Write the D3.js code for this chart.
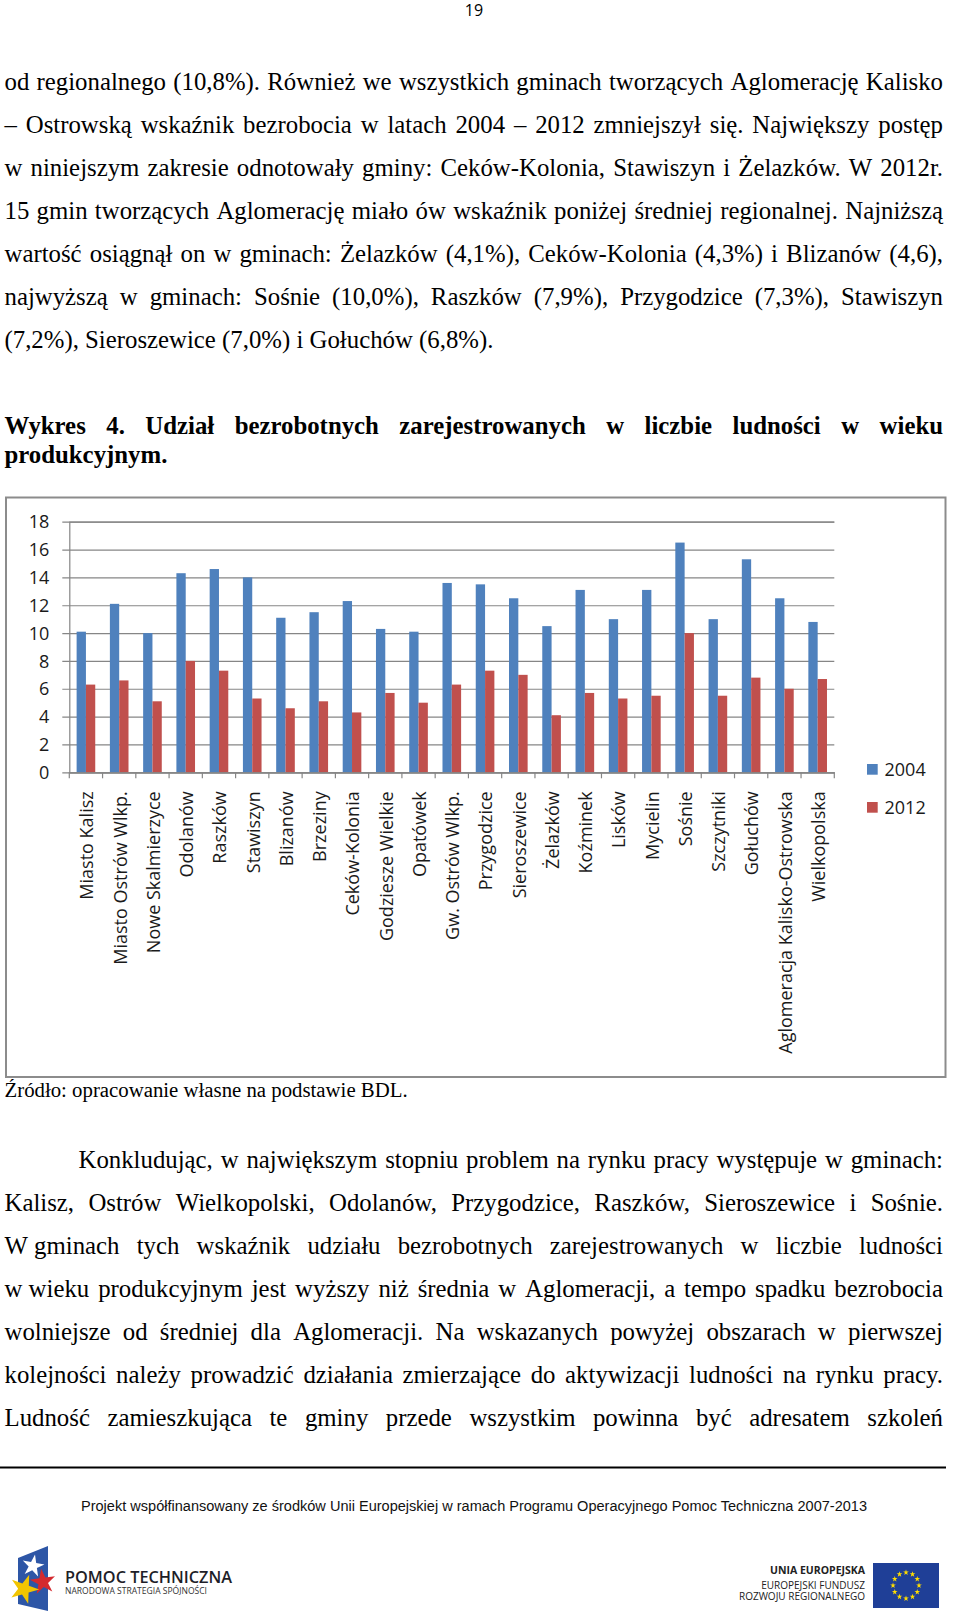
<!DOCTYPE html>
<html><head><meta charset="utf-8">
<script src="https://cdn.jsdelivr.net/npm/d3@7"></script>
<style>html,body{margin:0;padding:0;background:#fff;}svg{display:block;}</style>
</head><body>
<script>
// ---------- DATA ----------
const categories = ["Miasto Kalisz","Miasto Ostrów Wlkp.","Nowe Skalmierzyce","Odolanów","Raszków","Stawiszyn","Blizanów","Brzeziny","Ceków-Kolonia","Godziesze Wielkie","Opatówek","Gw. Ostrów Wlkp.","Przygodzice","Sieroszewice","Żelazków","Koźminek","Lisków","Mycielin","Sośnie","Szczytniki","Gołuchów","Aglomeracja Kalisko-Ostrowska","Wielkopolska"];
const series = ["2004","2012"];
const values2004 = [10.1,12.1,10.0,14.3,14.6,14.0,11.1,11.5,12.3,10.3,10.1,13.6,13.5,12.5,10.5,13.1,11.0,13.1,16.5,11.0,15.3,12.5,10.8];
const values2012 = [6.3,6.6,5.1,8.0,7.3,5.3,4.6,5.1,4.3,5.7,5.0,6.3,7.3,7.0,4.1,5.7,5.3,5.5,10.0,5.5,6.8,6.0,6.7];
const yTicks = [0,2,4,6,8,10,12,14,16,18];

const pageNumber = "19";
const para1 = [
 "od regionalnego (10,8%). Również we wszystkich gminach tworzących Aglomerację Kalisko",
 "– Ostrowską wskaźnik bezrobocia w latach 2004 – 2012 zmniejszył się. Największy postęp",
 "w niniejszym zakresie odnotowały gminy: Ceków-Kolonia, Stawiszyn i Żelazków. W 2012r.",
 "15 gmin tworzących Aglomerację miało ów wskaźnik poniżej średniej regionalnej. Najniższą",
 "wartość osiągnął on w gminach: Żelazków (4,1%), Ceków-Kolonia (4,3%) i Blizanów (4,6),",
 "najwyższą w gminach: Sośnie (10,0%), Raszków (7,9%), Przygodzice (7,3%), Stawiszyn",
 "(7,2%), Sieroszewice (7,0%) i Gołuchów (6,8%)."
];
const heading = ["Wykres 4. Udział bezrobotnych zarejestrowanych w liczbie ludności w wieku","produkcyjnym."];
const sourceText = "Źródło: opracowanie własne na podstawie BDL.";
const para2 = [
 "Konkludując, w największym stopniu problem na rynku pracy występuje w gminach:",
 "Kalisz, Ostrów Wielkopolski, Odolanów, Przygodzice, Raszków, Sieroszewice i Sośnie.",
 "W\u00A0gminach tych wskaźnik udziału bezrobotnych zarejestrowanych w liczbie ludności",
 "w\u00A0wieku produkcyjnym jest wyższy niż średnia w Aglomeracji, a tempo spadku bezrobocia",
 "wolniejsze od średniej dla Aglomeracji. Na wskazanych powyżej obszarach w pierwszej",
 "kolejności należy prowadzić działania zmierzające do aktywizacji ludności na rynku pracy.",
 "Ludność zamieszkująca te gminy przede wszystkim powinna być adresatem szkoleń"
];
const footerText = "Projekt współfinansowany ze środków Unii Europejskiej w ramach Programu Operacyjnego Pomoc Techniczna 2007-2013";
const logoLeft = ["POMOC TECHNICZNA","NARODOWA STRATEGIA SPÓJNOŚCI"];
const logoRight = ["UNIA EUROPEJSKA","EUROPEJSKI FUNDUSZ","ROZWOJU REGIONALNEGO"];

// ---------- PAGE ----------
const W = 960, H = 1619;
const svg = d3.select("body").append("svg").attr("width", W).attr("height", H);
svg.append("rect").attr("width", W).attr("height", H).attr("fill", "#fff");

const serif = "'Liberation Serif','Times New Roman',serif";
const LEFT = 4.5, RIGHT = 943;

function line(txt, x0, x1, y, opts) {
  const t = svg.append("text").attr("y", y)
    .style("font-family", serif).style("font-size", opts.size + "px")
    .style("font-weight", opts.bold ? "bold" : "normal").attr("fill", "#000");
  if (!opts.justify) { t.attr("x", x0).text(txt); return; }
  const words = txt.split(" ");
  const spans = words.map(w => t.append("tspan").attr("x", x0).text(w));
  const widths = spans.map(s => s.node().getComputedTextLength());
  const total = d3.sum(widths);
  let gap = (x1 - x0 - total) / (words.length - 1);
  let scale = 1;
  const minGap = opts.size * 0.18;
  if (gap < minGap) {
    scale = (x1 - x0 - minGap * (words.length - 1)) / total;
    gap = minGap;
  }
  let x = x0;
  spans.forEach((s, i) => {
    s.attr("x", x);
    if (scale < 1) s.attr("textLength", widths[i] * scale).attr("lengthAdjust", "spacingAndGlyphs");
    x += widths[i] * scale + gap;
  });
}

// page number
svg.append("text").attr("x", 474).attr("y", 16).attr("text-anchor", "middle")
  .style("font-family", "'Open Sans',sans-serif").style("font-size", "16px").text(pageNumber);

const BODY = 24.8, LH = 43;
para1.forEach((l, i) => line(l, LEFT, RIGHT, 90 + i * LH, {size: BODY, justify: i < para1.length - 1}));
heading.forEach((l, i) => line(l, LEFT, RIGHT, 434 + i * 29, {size: BODY, bold: true, justify: i === 0}));

// ---------- CHART ----------
svg.append("rect").attr("x", 6).attr("y", 497.5).attr("width", 939.5).attr("height", 579.5)
  .attr("fill", "#fff").attr("stroke", "#8c8c8c").attr("stroke-width", 2);

const plot = {l: 69.3, r: 834.3, t: 521.7, b: 772.3};
const x = d3.scaleBand().domain(categories).range([plot.l, plot.r]).paddingInner(0).paddingOuter(0);
const xs = d3.scaleBand().domain(series).range([x.bandwidth() * 0.22, x.bandwidth() * 0.78]);
const y = d3.scaleLinear().domain([0, 18]).range([plot.b, plot.t]);
const colors = d3.scaleOrdinal().domain(series).range(["#4F81BD", "#C0504D"]);
const chartFont = "'Open Sans',sans-serif";

// gridlines + y axis
const yAxis = svg.append("g").attr("transform", `translate(${plot.l},0)`)
  .call(d3.axisLeft(y).tickValues(yTicks).tickSize(-(plot.r - plot.l)).tickPadding(0).tickFormat(d3.format("d")));
yAxis.select(".domain").attr("stroke", "#868686").attr("stroke-width", 1.2);
yAxis.selectAll(".tick line").attr("stroke", "#868686").attr("stroke-width", 1.2).attr("x1", -7);
yAxis.selectAll(".tick text").attr("x", -20).attr("dy", "0.34em")
  .style("font-family", chartFont).style("font-size", "18px").attr("fill", "#1a1a1a");

// bars
const rows = categories.map((c, i) => ({cat: c, vals: [values2004[i], values2012[i]]}));
const grp = svg.append("g").selectAll("g").data(rows).join("g")
  .attr("transform", d => `translate(${x(d.cat)},0)`);
grp.selectAll("rect").data(d => d.vals.map((v, k) => ({s: series[k], v})))
  .join("rect")
  .attr("x", d => xs(d.s)).attr("width", xs.bandwidth())
  .attr("y", d => y(d.v)).attr("height", d => y(0) - y(d.v))
  .attr("fill", d => colors(d.s));

// x axis
const xAxis = svg.append("g").attr("transform", `translate(0,${plot.b})`)
  .call(d3.axisBottom(x).tickSize(0).tickFormat(""));
xAxis.select(".domain").attr("stroke", "#868686").attr("stroke-width", 1.2);
const bounds = categories.map(c => x(c)).concat([plot.r]);
svg.append("g").selectAll("line").data(bounds).join("line")
  .attr("x1", d => d).attr("x2", d => d).attr("y1", plot.b).attr("y2", plot.b + 6)
  .attr("stroke", "#868686").attr("stroke-width", 1.2);

// category labels
svg.append("g").selectAll("text").data(categories).join("text")
  .attr("transform", d => `translate(${x(d) + x.bandwidth() / 2 + 1},${plot.b + 19}) rotate(-90)`)
  .attr("text-anchor", "end").attr("dy", "0.35em")
  .style("font-family", chartFont).style("font-size", "18px").attr("fill", "#1a1a1a")
  .text(d => d);

// legend
const leg = svg.append("g").selectAll("g").data(series).join("g")
  .attr("transform", (d, i) => `translate(867,${764 + i * 38})`);
leg.append("rect").attr("width", 10.7).attr("height", 10.7).attr("fill", d => colors(d));
leg.append("text").attr("x", 17.5).attr("y", 11.5)
  .style("font-family", chartFont).style("font-size", "18px").attr("fill", "#1a1a1a").text(d => d);

// source
line(sourceText, LEFT, RIGHT, 1097, {size: 20.8});

// paragraph 2
para2.forEach((l, i) => line(l, i === 0 ? 78.5 : LEFT, RIGHT, 1168 + i * LH, {size: BODY, justify: true}));

// rule
svg.append("line").attr("x1", 0).attr("x2", 946).attr("y1", 1467.5).attr("y2", 1467.5)
  .attr("stroke", "#000").attr("stroke-width", 2);

// footer
svg.append("text").attr("x", 474).attr("y", 1510.5).attr("text-anchor", "middle")
  .style("font-family", "'Liberation Sans',Arial,sans-serif").style("font-size", "14px")
  .attr("textLength", 786).attr("lengthAdjust", "spacingAndGlyphs").attr("fill", "#111").text(footerText);

// left logo
const star = d3.symbol().type(d3.symbolStar);
svg.append("path").attr("d", "M18,1558 L48,1546 L48,1611 L18,1604 Z").attr("fill", "#2d56a6");
svg.append("path").attr("d", star.size(150)()).attr("transform", "translate(33,1566) rotate(10)").attr("fill", "#fff");
svg.append("path").attr("d", star.size(200)()).attr("transform", "translate(43,1582) rotate(-8)").attr("fill", "#d42a2f");
svg.append("path").attr("d", star.size(260)()).attr("transform", "translate(24,1589) rotate(20)").attr("fill", "#f2c500");
svg.append("text").attr("x", 65).attr("y", 1583).style("font-family", chartFont).style("font-size", "17px")
  .style("font-weight", "600").attr("fill", "#1e1e28").attr("textLength", 167).attr("lengthAdjust", "spacingAndGlyphs").text(logoLeft[0]);
svg.append("text").attr("x", 65).attr("y", 1594).style("font-family", chartFont).style("font-size", "8.5px")
  .attr("fill", "#333").attr("textLength", 142).attr("lengthAdjust", "spacingAndGlyphs").text(logoLeft[1]);

// right logo
logoRight.forEach((t, i) => {
  svg.append("text").attr("x", 865).attr("y", [1574, 1589, 1600][i]).attr("text-anchor", "end")
    .style("font-family", chartFont).style("font-size", i === 0 ? "10.5px" : "10px")
    .style("font-weight", i === 0 ? "bold" : "normal").attr("fill", "#222").text(t);
});
svg.append("rect").attr("x", 873).attr("y", 1563).attr("width", 66).attr("height", 45).attr("fill", "#1f3f97");
const euStars = d3.range(12);
svg.append("g").selectAll("path").data(euStars).join("path")
  .attr("d", star.size(10)())
  .attr("transform", d => `translate(${906 + 13 * Math.sin(d * Math.PI / 6)},${1585.5 - 13 * Math.cos(d * Math.PI / 6)})`)
  .attr("fill", "#ffdd00");
</script>
</body></html>
